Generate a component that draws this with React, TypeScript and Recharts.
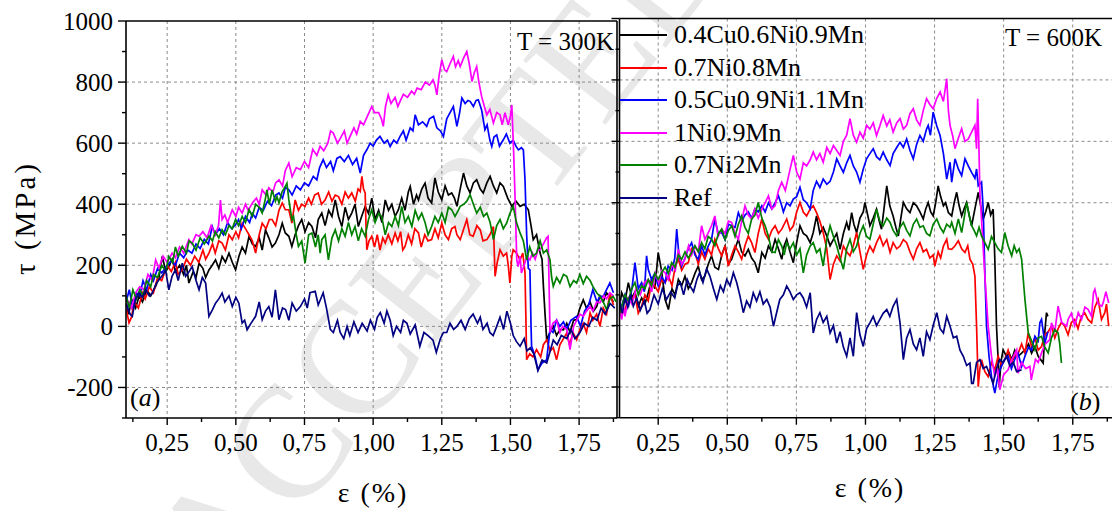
import { CartesianGrid, Legend, Line, LineChart, ReferenceLine, XAxis, YAxis } from "recharts";

type Pt = [number, number];

const FONT = '"Liberation Serif", "Times New Roman", serif';

const SERIES_NAMES = ["0.4Cu0.6Ni0.9Mn", "0.7Ni0.8Mn", "0.5Cu0.9Ni1.1Mn", "1Ni0.9Mn", "0.7Ni2Mn", "Ref"];
const SERIES_COLORS = ["#000000", "#ff0000", "#0000ff", "#ff00ff", "#008000", "#000080"];

const X_TICKS_A = [0.125, 0.25, 0.375, 0.5, 0.625, 0.75, 0.875, 1, 1.125, 1.25, 1.375, 1.5, 1.625, 1.75, 1.875];
const X_TICKS_B = X_TICKS_A.slice(1);
const Y_TICKS = [-300, -200, -100, 0, 100, 200, 300, 400, 500, 600, 700, 800, 900, 1000];
const GRID_X = [0.25, 0.5, 0.75, 1, 1.25, 1.5, 1.75];
const GRID_Y = [-200, 0, 200, 400, 600, 800];

// ---- (a) T = 300K : [strain %, shear stress MPa]
const aBlack: Pt[] = [[0.1,70],[0.11,40],[0.12,90],[0.135,60],[0.148,100],[0.16,80],[0.175,120],[0.19,100],[0.208,131],[0.22,160],[0.232,229],[0.245,180],[0.256,196],[0.268,220],[0.28,180],[0.295,200],[0.31,170],[0.32,200],[0.329,142],[0.345,180],[0.355,160],[0.366,207],[0.38,190],[0.39,160],[0.402,185],[0.414,200],[0.426,218],[0.438,190],[0.45,229],[0.462,210],[0.475,240],[0.487,210],[0.499,185],[0.511,229],[0.523,260],[0.535,240],[0.548,295],[0.56,270],[0.572,262],[0.585,290],[0.596,250],[0.608,316],[0.62,290],[0.632,260],[0.644,273],[0.657,300],[0.669,338],[0.68,306],[0.693,295],[0.704,262],[0.716,300],[0.728,330],[0.74,350],[0.752,310],[0.765,340],[0.777,327],[0.79,290],[0.8,350],[0.813,371],[0.825,330],[0.838,380],[0.85,360],[0.862,414],[0.874,360],[0.886,327],[0.898,390],[0.91,350],[0.922,371],[0.934,400],[0.946,327],[0.958,360],[0.971,393],[0.983,370],[0.995,420],[1.007,350],[1.02,380],[1.032,340],[1.044,414],[1.056,380],[1.068,400],[1.08,360],[1.092,382],[1.104,420],[1.116,380],[1.128,440],[1.135,458],[1.147,400],[1.158,430],[1.165,414],[1.177,450],[1.189,469],[1.2,420],[1.213,404],[1.225,486],[1.237,440],[1.25,414],[1.262,460],[1.274,430],[1.286,437],[1.296,420],[1.305,393],[1.317,450],[1.329,502],[1.341,460],[1.353,437],[1.365,470],[1.377,480],[1.39,450],[1.401,437],[1.414,470],[1.426,491],[1.438,460],[1.45,437],[1.462,470],[1.474,458],[1.49,420],[1.505,393],[1.52,410],[1.535,393],[1.55,400],[1.565,382],[1.575,330],[1.583,284],[1.595,300],[1.608,240],[1.615,220],[1.62,131],[1.626,40],[1.632,-44],[1.644,-20],[1.656,0],[1.668,-30],[1.68,-10],[1.693,-11],[1.705,10],[1.717,-20],[1.73,20],[1.741,22],[1.753,60],[1.765,87],[1.777,60],[1.79,80],[1.802,50],[1.814,65],[1.826,100],[1.838,80],[1.85,110],[1.862,98],[1.875,80]];
const aRed: Pt[] = [[0.1,60],[0.111,12],[0.12,30],[0.13,80],[0.145,60],[0.16,110],[0.17,90],[0.185,130],[0.2,110],[0.215,160],[0.23,150],[0.25,200],[0.265,180],[0.28,210],[0.29,170],[0.305,185],[0.32,220],[0.335,200],[0.35,230],[0.365,210],[0.38,250],[0.39,220],[0.402,240],[0.415,270],[0.425,240],[0.438,280],[0.45,273],[0.462,250],[0.475,300],[0.487,284],[0.5,310],[0.51,290],[0.523,338],[0.535,320],[0.548,300],[0.56,280],[0.572,240],[0.585,300],[0.596,338],[0.61,320],[0.622,350],[0.632,350],[0.645,330],[0.657,380],[0.669,404],[0.68,382],[0.693,382],[0.704,338],[0.716,414],[0.728,380],[0.74,400],[0.752,393],[0.765,420],[0.775,400],[0.787,430],[0.8,437],[0.812,400],[0.825,414],[0.838,440],[0.85,410],[0.862,430],[0.874,425],[0.886,400],[0.898,440],[0.91,420],[0.922,437],[0.935,410],[0.945,450],[0.953,442],[0.959,491],[0.965,450],[0.971,437],[0.974,330],[0.977,251],[0.985,280],[0.995,295],[1.005,260],[1.015,300],[1.025,250],[1.035,290],[1.044,273],[1.055,300],[1.068,270],[1.08,306],[1.09,280],[1.1,310],[1.108,250],[1.116,262],[1.128,300],[1.14,270],[1.152,320],[1.165,306],[1.175,260],[1.188,300],[1.2,280],[1.213,284],[1.225,320],[1.237,290],[1.25,338],[1.262,300],[1.274,284],[1.286,320],[1.298,327],[1.305,300],[1.317,284],[1.33,320],[1.341,350],[1.352,300],[1.364,295],[1.378,330],[1.39,316],[1.4,280],[1.414,284],[1.425,300],[1.438,327],[1.444,164],[1.452,210],[1.462,251],[1.474,230],[1.486,240],[1.492,200],[1.498,142],[1.505,230],[1.51,251],[1.522,240],[1.535,218],[1.545,240],[1.553,175],[1.556,40],[1.559,-109],[1.57,-90],[1.582,-100],[1.595,-76],[1.61,-100],[1.62,-60],[1.632,-44],[1.645,-80],[1.656,-70],[1.668,-109],[1.68,-60],[1.693,-40],[1.705,-22],[1.715,-60],[1.728,-20],[1.741,-44],[1.753,-10],[1.765,10],[1.777,-20],[1.79,44],[1.8,20],[1.814,40],[1.826,0],[1.838,60],[1.85,40],[1.862,109],[1.875,70]];
const aBlue: Pt[] = [[0.1,80],[0.112,120],[0.125,60],[0.138,110],[0.15,100],[0.162,150],[0.175,120],[0.19,170],[0.2,150],[0.215,190],[0.23,175],[0.25,200],[0.265,215],[0.28,200],[0.295,240],[0.31,225],[0.325,250],[0.34,240],[0.355,270],[0.37,255],[0.385,285],[0.4,270],[0.414,327],[0.425,300],[0.44,320],[0.455,300],[0.47,340],[0.485,320],[0.499,333],[0.51,350],[0.52,320],[0.535,360],[0.55,340],[0.56,370],[0.572,355],[0.585,390],[0.6,380],[0.615,410],[0.63,395],[0.645,430],[0.657,437],[0.67,420],[0.68,455],[0.693,447],[0.705,430],[0.72,460],[0.735,447],[0.75,470],[0.765,460],[0.782,491],[0.795,480],[0.805,520],[0.818,546],[0.83,520],[0.845,540],[0.855,510],[0.868,550],[0.88,556],[0.895,540],[0.91,560],[0.925,530],[0.94,550],[0.953,502],[0.965,560],[0.978,580],[0.989,600],[1,590],[1.012,610],[1.025,622],[1.04,600],[1.052,610],[1.062,589],[1.075,610],[1.086,600],[1.098,622],[1.11,640],[1.12,610],[1.135,650],[1.145,640],[1.153,693],[1.165,660],[1.18,670],[1.195,655],[1.205,680],[1.22,688],[1.232,650],[1.245,640],[1.256,622],[1.268,680],[1.28,700],[1.292,720],[1.305,655],[1.315,700],[1.323,748],[1.335,730],[1.345,740],[1.353,737],[1.365,720],[1.375,740],[1.383,742],[1.395,709],[1.407,644],[1.415,660],[1.425,610],[1.432,589],[1.44,620],[1.45,627],[1.46,590],[1.474,611],[1.485,630],[1.498,600],[1.51,610],[1.52,590],[1.529,578],[1.54,585],[1.547,578],[1.553,480],[1.559,300],[1.565,190],[1.571,185],[1.575,0],[1.577,-65],[1.59,-100],[1.6,-142],[1.615,-120],[1.632,-109],[1.644,-10],[1.655,-20],[1.668,20],[1.68,0],[1.693,15],[1.705,-10],[1.72,20],[1.741,33],[1.755,0],[1.77,50],[1.785,70],[1.8,120],[1.815,80],[1.826,98],[1.838,98],[1.85,120],[1.862,142],[1.875,110]];
const aMagenta: Pt[] = [[0.1,50],[0.11,80],[0.12,60],[0.135,110],[0.15,130],[0.165,120],[0.18,170],[0.195,150],[0.208,218],[0.22,190],[0.235,230],[0.25,210],[0.268,240],[0.28,225],[0.295,260],[0.31,240],[0.329,284],[0.34,270],[0.355,300],[0.366,295],[0.38,310],[0.395,290],[0.41,330],[0.425,300],[0.437,330],[0.444,414],[0.45,350],[0.46,365],[0.47,340],[0.487,382],[0.5,360],[0.51,390],[0.523,371],[0.535,400],[0.545,380],[0.56,404],[0.575,420],[0.585,400],[0.596,447],[0.61,430],[0.62,454],[0.635,440],[0.645,470],[0.657,480],[0.67,460],[0.68,510],[0.693,535],[0.705,490],[0.72,520],[0.735,513],[0.75,540],[0.765,520],[0.78,580],[0.795,560],[0.807,590],[0.82,575],[0.835,600],[0.845,640],[0.855,633],[0.87,600],[0.88,615],[0.895,640],[0.905,600],[0.916,622],[0.93,650],[0.94,630],[0.953,671],[0.965,660],[0.98,690],[0.995,720],[1.005,700],[1.02,700],[1.03,680],[1.037,655],[1.045,720],[1.055,758],[1.065,730],[1.08,750],[1.09,720],[1.098,737],[1.11,760],[1.125,750],[1.14,770],[1.15,760],[1.16,780],[1.175,775],[1.19,800],[1.205,790],[1.218,807],[1.225,790],[1.232,758],[1.24,820],[1.25,873],[1.26,840],[1.268,834],[1.28,860],[1.292,884],[1.3,850],[1.31,870],[1.317,851],[1.33,880],[1.341,900],[1.35,860],[1.36,802],[1.368,830],[1.377,851],[1.385,800],[1.395,753],[1.405,720],[1.414,693],[1.425,710],[1.438,666],[1.45,700],[1.462,693],[1.47,660],[1.48,700],[1.492,660],[1.5,690],[1.505,725],[1.512,560],[1.517,415],[1.523,218],[1.528,196],[1.535,230],[1.54,175],[1.55,200],[1.56,230],[1.571,218],[1.58,240],[1.59,220],[1.6,250],[1.608,251],[1.62,270],[1.632,290],[1.637,295],[1.641,120],[1.644,-20],[1.655,10],[1.668,20],[1.68,-20],[1.69,0],[1.705,-10],[1.717,-76],[1.73,0],[1.741,20],[1.753,40],[1.765,33],[1.777,50],[1.79,65],[1.8,50],[1.814,80],[1.826,77],[1.84,100],[1.85,90],[1.862,110],[1.875,100]];
const aGreen: Pt[] = [[0.1,100],[0.112,60],[0.125,120],[0.138,90],[0.15,120],[0.162,100],[0.175,150],[0.19,130],[0.2,170],[0.215,160],[0.23,200],[0.245,180],[0.256,229],[0.27,210],[0.28,260],[0.29,230],[0.305,262],[0.32,240],[0.33,280],[0.341,273],[0.355,250],[0.37,290],[0.385,270],[0.402,295],[0.415,280],[0.425,310],[0.438,290],[0.45,316],[0.462,300],[0.475,330],[0.487,320],[0.499,350],[0.51,330],[0.523,360],[0.535,340],[0.548,382],[0.56,360],[0.572,400],[0.585,390],[0.596,371],[0.608,420],[0.613,447],[0.622,400],[0.632,447],[0.644,410],[0.65,425],[0.657,404],[0.668,440],[0.68,458],[0.686,469],[0.693,414],[0.704,350],[0.71,360],[0.72,300],[0.728,262],[0.74,280],[0.752,207],[0.765,300],[0.777,306],[0.79,260],[0.8,300],[0.807,240],[0.813,284],[0.825,300],[0.837,218],[0.85,290],[0.862,316],[0.874,280],[0.886,320],[0.898,295],[0.91,340],[0.922,300],[0.934,327],[0.946,280],[0.958,320],[0.971,295],[0.983,350],[0.995,382],[1.007,340],[1.02,370],[1.031,360],[1.044,300],[1.056,340],[1.068,327],[1.08,360],[1.092,330],[1.104,393],[1.116,340],[1.128,360],[1.141,327],[1.153,380],[1.165,350],[1.177,371],[1.189,340],[1.2,300],[1.213,327],[1.225,360],[1.237,340],[1.25,371],[1.262,340],[1.274,390],[1.286,382],[1.298,360],[1.31,380],[1.317,393],[1.33,400],[1.341,410],[1.353,431],[1.365,400],[1.377,371],[1.39,390],[1.402,360],[1.414,371],[1.426,340],[1.438,284],[1.45,330],[1.462,350],[1.474,320],[1.486,338],[1.498,370],[1.51,393],[1.522,340],[1.535,306],[1.547,280],[1.559,218],[1.57,260],[1.582,230],[1.595,240],[1.608,280],[1.62,240],[1.632,251],[1.644,218],[1.65,160],[1.656,131],[1.668,160],[1.68,142],[1.693,170],[1.705,164],[1.717,130],[1.73,150],[1.741,142],[1.753,170],[1.765,140],[1.777,164],[1.79,150],[1.8,131],[1.814,110],[1.826,98],[1.838,80],[1.85,55],[1.862,90],[1.874,98],[1.885,80]];
const aRef: Pt[] = [[0.1,76],[0.115,40],[0.123,33],[0.135,90],[0.147,109],[0.16,95],[0.171,120],[0.185,100],[0.196,109],[0.21,140],[0.22,153],[0.235,170],[0.244,185],[0.256,120],[0.268,165],[0.28,185],[0.29,150],[0.305,207],[0.317,164],[0.33,180],[0.341,196],[0.355,150],[0.366,120],[0.378,160],[0.39,142],[0.402,33],[0.415,55],[0.426,76],[0.438,90],[0.45,109],[0.46,80],[0.475,100],[0.487,65],[0.5,95],[0.511,76],[0.523,11],[0.532,20],[0.541,-11],[0.555,10],[0.572,33],[0.585,80],[0.596,22],[0.608,50],[0.62,65],[0.632,30],[0.644,120],[0.657,22],[0.67,60],[0.681,55],[0.693,20],[0.705,76],[0.72,50],[0.735,65],[0.75,90],[0.76,60],[0.77,110],[0.789,115],[0.8,70],[0.818,110],[0.83,60],[0.844,-10],[0.855,-20],[0.87,20],[0.88,-20],[0.893,-40],[0.905,0],[0.915,-30],[0.93,15],[0.945,-20],[0.96,10],[0.978,-15],[0.99,20],[1.005,-10],[1.015,30],[1.026,45],[1.04,10],[1.05,50],[1.062,20],[1.073,-30],[1.085,0],[1.1,-20],[1.11,20],[1.123,10],[1.135,-25],[1.153,5],[1.17,-65],[1.185,-20],[1.2,-30],[1.218,-45],[1.23,-85],[1.245,-40],[1.256,-20],[1.268,-20],[1.28,10],[1.293,-10],[1.305,0],[1.32,20],[1.335,-10],[1.35,25],[1.364,40],[1.38,10],[1.39,30],[1.4,-10],[1.415,10],[1.425,-20],[1.437,-30],[1.45,0],[1.462,30],[1.475,-10],[1.487,50],[1.5,10],[1.51,-30],[1.522,-50],[1.535,-65],[1.55,-40],[1.56,-80],[1.572,-70],[1.585,-90],[1.6,-145],[1.615,-110],[1.632,-120],[1.645,-80],[1.656,-45],[1.67,-60],[1.685,-30],[1.705,-40],[1.72,-10],[1.735,-40],[1.753,-20],[1.77,10],[1.785,0],[1.8,30],[1.815,20],[1.83,60],[1.845,40],[1.863,75],[1.88,60]];

// ---- (b) T = 600K
const bBlack: Pt[] = [[0.11,60],[0.118,107],[0.13,80],[0.142,140],[0.155,90],[0.166,110],[0.178,63],[0.19,90],[0.202,70],[0.214,107],[0.226,150],[0.238,120],[0.25,238],[0.262,180],[0.275,85],[0.287,52],[0.3,120],[0.311,100],[0.323,150],[0.335,130],[0.347,161],[0.359,120],[0.371,140],[0.383,170],[0.395,194],[0.407,150],[0.419,161],[0.431,200],[0.443,227],[0.455,190],[0.468,183],[0.48,230],[0.492,259],[0.504,200],[0.516,216],[0.528,250],[0.54,281],[0.552,240],[0.564,227],[0.576,248],[0.588,220],[0.6,205],[0.612,172],[0.625,238],[0.637,220],[0.649,259],[0.661,240],[0.673,281],[0.685,250],[0.697,216],[0.706,260],[0.715,281],[0.727,240],[0.739,205],[0.751,270],[0.763,325],[0.775,300],[0.787,292],[0.8,270],[0.811,303],[0.823,357],[0.835,300],[0.847,320],[0.86,292],[0.872,260],[0.884,281],[0.896,300],[0.908,248],[0.92,300],[0.932,336],[0.94,310],[0.95,368],[0.958,330],[0.968,303],[0.98,350],[0.992,370],[0.998,401],[1.008,360],[1.016,325],[1.028,350],[1.04,379],[1.05,340],[1.058,314],[1.067,380],[1.077,455],[1.088,390],[1.1,357],[1.11,320],[1.119,292],[1.128,350],[1.137,401],[1.149,380],[1.161,368],[1.173,400],[1.185,390],[1.197,370],[1.209,347],[1.218,380],[1.227,401],[1.236,370],[1.245,357],[1.254,400],[1.263,455],[1.272,420],[1.282,390],[1.29,400],[1.3,368],[1.312,357],[1.321,400],[1.33,434],[1.339,390],[1.348,357],[1.357,380],[1.366,401],[1.375,360],[1.384,325],[1.396,380],[1.408,434],[1.417,390],[1.426,347],[1.435,370],[1.444,401],[1.453,360],[1.462,379],[1.468,216],[1.474,0],[1.48,-111],[1.484,-199],[1.49,-120],[1.498,-79],[1.51,-100],[1.52,-90],[1.529,-111],[1.54,-80],[1.552,-100],[1.565,-90],[1.577,-79],[1.59,-60],[1.601,-90],[1.613,-68],[1.625,-100],[1.643,-122],[1.649,-20],[1.655,42],[1.66,30]];
const bRed: Pt[] = [[0.11,80],[0.12,40],[0.13,52],[0.142,90],[0.154,85],[0.166,100],[0.178,40],[0.19,63],[0.202,100],[0.214,80],[0.226,140],[0.238,129],[0.25,110],[0.262,150],[0.275,140],[0.287,161],[0.3,130],[0.311,190],[0.323,216],[0.335,180],[0.347,200],[0.359,205],[0.371,250],[0.383,238],[0.395,200],[0.407,240],[0.419,216],[0.431,250],[0.443,230],[0.455,281],[0.468,250],[0.48,227],[0.492,260],[0.504,194],[0.516,230],[0.528,259],[0.54,240],[0.552,216],[0.564,260],[0.576,292],[0.588,270],[0.6,238],[0.612,300],[0.625,347],[0.637,300],[0.649,281],[0.661,310],[0.673,325],[0.685,300],[0.697,314],[0.706,330],[0.715,347],[0.727,310],[0.739,325],[0.751,370],[0.763,401],[0.775,370],[0.787,357],[0.8,380],[0.811,390],[0.823,368],[0.835,340],[0.847,303],[0.86,250],[0.872,150],[0.884,200],[0.896,227],[0.908,210],[0.92,259],[0.932,240],[0.944,227],[0.956,260],[0.968,303],[0.98,240],[0.992,183],[1.004,230],[1.016,259],[1.028,240],[1.04,270],[1.052,292],[1.064,260],[1.077,280],[1.089,238],[1.1,270],[1.113,250],[1.125,259],[1.137,280],[1.149,270],[1.161,240],[1.173,216],[1.185,250],[1.197,270],[1.209,240],[1.221,248],[1.233,220],[1.245,230],[1.251,194],[1.263,240],[1.272,220],[1.282,259],[1.294,281],[1.3,250],[1.312,248],[1.324,260],[1.336,276],[1.348,250],[1.36,238],[1.37,260],[1.378,216],[1.388,200],[1.396,161],[1.402,-2],[1.408,-199],[1.414,-140],[1.42,-111],[1.432,-150],[1.444,-166],[1.456,-120],[1.468,-144],[1.48,-100],[1.492,-130],[1.504,-111],[1.516,-80],[1.528,-120],[1.54,-100],[1.553,-89],[1.565,-60],[1.577,-90],[1.589,-24],[1.601,-70],[1.613,-40],[1.625,-80],[1.637,-68],[1.649,-30],[1.661,-20],[1.673,-2],[1.685,-40],[1.697,-10],[1.709,10],[1.721,-2],[1.733,-30],[1.745,10],[1.757,20],[1.769,-10],[1.781,30],[1.793,42],[1.805,20],[1.818,9],[1.83,60],[1.842,85],[1.854,20],[1.866,42],[1.872,70],[1.88,-2]];
const bBlue: Pt[] = [[0.11,40],[0.118,63],[0.13,100],[0.142,60],[0.155,120],[0.166,205],[0.178,120],[0.19,140],[0.2,110],[0.208,227],[0.214,183],[0.226,150],[0.238,170],[0.25,129],[0.262,160],[0.275,140],[0.286,194],[0.3,180],[0.31,220],[0.317,314],[0.325,230],[0.335,194],[0.347,220],[0.359,250],[0.371,270],[0.383,230],[0.395,216],[0.407,260],[0.419,230],[0.431,259],[0.443,280],[0.455,347],[0.467,300],[0.48,303],[0.492,280],[0.504,330],[0.516,325],[0.528,320],[0.54,368],[0.552,340],[0.564,360],[0.576,370],[0.588,350],[0.6,380],[0.612,370],[0.625,390],[0.637,370],[0.649,400],[0.661,380],[0.673,400],[0.685,423],[0.697,390],[0.703,370],[0.715,400],[0.727,390],[0.739,412],[0.751,420],[0.763,450],[0.775,410],[0.787,400],[0.8,380],[0.811,440],[0.823,470],[0.835,450],[0.847,477],[0.86,460],[0.872,470],[0.884,500],[0.896,543],[0.908,520],[0.92,499],[0.932,530],[0.944,554],[0.956,520],[0.968,500],[0.98,467],[0.992,510],[1.004,543],[1.016,560],[1.028,576],[1.04,550],[1.052,540],[1.064,565],[1.077,540],[1.089,521],[1.1,560],[1.113,580],[1.125,597],[1.137,580],[1.149,608],[1.161,570],[1.173,543],[1.185,590],[1.197,619],[1.209,600],[1.221,640],[1.227,652],[1.235,620],[1.245,695],[1.258,650],[1.27,619],[1.282,560],[1.294,477],[1.306,532],[1.312,467],[1.324,543],[1.336,510],[1.348,488],[1.36,543],[1.372,520],[1.384,499],[1.396,480],[1.402,510],[1.408,455],[1.42,467],[1.426,379],[1.432,172],[1.438,-2],[1.447,-100],[1.456,-166],[1.468,-220],[1.48,-160],[1.492,-133],[1.504,-110],[1.516,-100],[1.528,-140],[1.54,-110],[1.552,-90],[1.565,-133],[1.577,-100],[1.59,-70],[1.601,-80],[1.613,-35],[1.625,-50],[1.631,9],[1.637,20],[1.649,-57],[1.66,-20]];
const bMagenta: Pt[] = [[0.11,50],[0.118,20],[0.125,60],[0.13,30],[0.142,90],[0.155,70],[0.17,120],[0.185,100],[0.2,140],[0.214,150],[0.226,110],[0.24,170],[0.252,140],[0.264,180],[0.275,172],[0.287,150],[0.3,200],[0.312,180],[0.323,248],[0.335,200],[0.347,216],[0.36,260],[0.371,230],[0.383,259],[0.395,240],[0.407,325],[0.419,281],[0.43,300],[0.443,325],[0.455,357],[0.467,290],[0.48,314],[0.492,300],[0.504,340],[0.516,336],[0.528,300],[0.54,281],[0.552,340],[0.564,390],[0.576,360],[0.588,347],[0.6,380],[0.612,350],[0.625,379],[0.637,400],[0.649,423],[0.661,380],[0.673,390],[0.685,440],[0.697,467],[0.71,440],[0.72,480],[0.73,520],[0.739,554],[0.751,500],[0.763,477],[0.775,530],[0.787,520],[0.8,540],[0.811,565],[0.823,540],[0.835,560],[0.847,532],[0.86,580],[0.872,560],[0.884,586],[0.896,570],[0.908,554],[0.92,600],[0.932,620],[0.944,674],[0.956,620],[0.968,597],[0.98,630],[0.992,610],[1.004,652],[1.016,640],[1.028,660],[1.04,619],[1.052,650],[1.064,684],[1.077,650],[1.088,670],[1.1,630],[1.113,660],[1.125,674],[1.137,640],[1.149,652],[1.161,690],[1.173,706],[1.185,670],[1.197,652],[1.209,700],[1.221,739],[1.233,720],[1.245,706],[1.258,740],[1.27,761],[1.282,730],[1.294,804],[1.3,700],[1.306,652],[1.315,620],[1.324,576],[1.336,610],[1.348,641],[1.36,600],[1.372,608],[1.384,630],[1.396,652],[1.402,576],[1.406,739],[1.41,600],[1.414,434],[1.423,300],[1.432,161],[1.438,80],[1.444,-2],[1.456,-100],[1.468,-166],[1.478,-140],[1.486,-209],[1.5,-160],[1.516,-144],[1.53,-110],[1.547,-79],[1.552,-155],[1.565,-120],[1.58,-140],[1.595,-133],[1.6,-177],[1.615,-110],[1.625,-120],[1.637,-89],[1.65,-60],[1.667,-46],[1.673,9],[1.685,-20],[1.697,63],[1.71,10],[1.728,-2],[1.733,20],[1.745,40],[1.757,0],[1.77,42],[1.782,20],[1.794,60],[1.806,52],[1.818,30],[1.825,107],[1.83,118],[1.842,70],[1.855,63],[1.86,74],[1.87,110],[1.88,74]];
const bGreen: Pt[] = [[0.11,40],[0.118,63],[0.13,100],[0.142,80],[0.154,120],[0.166,140],[0.178,100],[0.19,130],[0.202,120],[0.214,150],[0.226,130],[0.238,170],[0.25,150],[0.262,172],[0.275,190],[0.287,170],[0.299,205],[0.311,190],[0.323,230],[0.335,216],[0.347,240],[0.359,220],[0.371,238],[0.383,260],[0.395,240],[0.407,270],[0.419,250],[0.431,290],[0.443,281],[0.455,260],[0.468,300],[0.48,314],[0.492,280],[0.504,310],[0.516,325],[0.528,290],[0.54,330],[0.552,357],[0.564,320],[0.576,300],[0.588,347],[0.6,360],[0.612,401],[0.625,350],[0.637,325],[0.649,290],[0.661,240],[0.673,238],[0.685,280],[0.697,259],[0.706,230],[0.715,270],[0.727,250],[0.739,270],[0.751,230],[0.763,250],[0.775,172],[0.787,230],[0.8,259],[0.811,270],[0.823,238],[0.835,250],[0.847,194],[0.86,280],[0.872,325],[0.884,290],[0.896,259],[0.908,220],[0.92,183],[0.932,250],[0.944,281],[0.956,240],[0.968,259],[0.98,300],[0.992,325],[1.004,290],[1.016,281],[1.028,330],[1.04,379],[1.052,340],[1.064,325],[1.077,350],[1.089,336],[1.1,310],[1.113,292],[1.125,320],[1.137,336],[1.149,310],[1.161,292],[1.173,330],[1.185,347],[1.197,320],[1.209,325],[1.221,300],[1.233,292],[1.245,330],[1.258,347],[1.27,320],[1.282,303],[1.294,330],[1.306,320],[1.312,336],[1.324,300],[1.336,347],[1.348,303],[1.357,350],[1.366,401],[1.375,360],[1.384,325],[1.393,310],[1.402,292],[1.411,320],[1.42,292],[1.432,270],[1.444,248],[1.456,290],[1.468,270],[1.48,250],[1.492,238],[1.504,303],[1.516,260],[1.529,227],[1.538,260],[1.547,238],[1.556,250],[1.565,216],[1.571,150],[1.577,85],[1.583,30],[1.589,-24],[1.601,-50],[1.613,-79],[1.625,-40],[1.637,-35],[1.649,-70],[1.661,-89],[1.673,-40],[1.685,-13],[1.697,-24],[1.703,-60],[1.709,-122]];
const bRef: Pt[] = [[0.11,80],[0.12,40],[0.13,90],[0.14,60],[0.15,100],[0.16,63],[0.172,90],[0.185,50],[0.2,80],[0.21,40],[0.22,52],[0.235,100],[0.25,70],[0.265,120],[0.28,85],[0.295,110],[0.31,90],[0.32,130],[0.33,140],[0.342,100],[0.355,150],[0.365,129],[0.378,110],[0.39,150],[0.4,172],[0.412,140],[0.425,185],[0.437,161],[0.45,120],[0.462,85],[0.475,130],[0.486,110],[0.498,150],[0.51,130],[0.522,172],[0.534,140],[0.546,96],[0.558,42],[0.57,80],[0.582,60],[0.594,107],[0.606,80],[0.618,110],[0.63,70],[0.643,85],[0.655,60],[0.667,-2],[0.678,40],[0.69,85],[0.703,100],[0.715,129],[0.727,110],[0.739,85],[0.751,100],[0.763,107],[0.775,90],[0.787,60],[0.8,107],[0.811,-24],[0.823,20],[0.835,42],[0.847,10],[0.86,30],[0.872,-24],[0.884,0],[0.896,-57],[0.908,-20],[0.92,-70],[0.932,-100],[0.944,-40],[0.956,-100],[0.968,42],[0.98,-30],[0.992,-68],[1.004,-10],[1.016,9],[1.028,30],[1.04,0],[1.052,20],[1.064,40],[1.077,52],[1.088,30],[1.1,63],[1.113,85],[1.125,9],[1.137,-111],[1.149,-40],[1.161,-13],[1.173,-60],[1.185,-79],[1.197,-40],[1.209,-100],[1.221,-20],[1.233,-46],[1.245,0],[1.258,42],[1.27,-10],[1.282,-24],[1.294,30],[1.306,-2],[1.318,-40],[1.33,-35],[1.342,-80],[1.354,-100],[1.366,-130],[1.378,-122],[1.384,-188],[1.39,-188],[1.402,-120],[1.414,-111],[1.426,-140],[1.438,-133],[1.45,-160],[1.462,-188],[1.474,-140],[1.486,-111],[1.498,-120],[1.51,-100],[1.522,-130],[1.535,-120],[1.547,-150],[1.565,-144]];

const PANEL_A = [aBlack, aRed, aBlue, aMagenta, aGreen, aRef];
const PANEL_B = [bBlack, bRed, bBlue, bMagenta, bGreen, bRef];

const toRows = (pts: Pt[]) => pts.map(([eps, tau]) => ({ eps, tau }));
const isMajorX = (v: number) => Math.abs(v * 4 - Math.round(v * 4)) < 1e-6;

function XTick(props: any) {
  const { x, y, payload } = props;
  const v = payload.value as number;
  const major = isMajorX(v);
  return (
    <g>
      <line x1={x} x2={x} y1={y} y2={y + (major ? 7 : 4)} stroke="#000" strokeWidth={1.4} />
      {major && (
        <text x={x} y={y + 33} textAnchor="middle" fontFamily={FONT} fontSize={25} fill="#000">
          {v.toFixed(2).replace(".", ",")}
        </text>
      )}
    </g>
  );
}

function YTick(props: any) {
  const { x, y, payload, labelled } = props;
  const v = payload.value as number;
  const major = v % 200 === 0;
  return (
    <g>
      <line x1={x - (major ? 8 : 4)} x2={x} y1={y} y2={y} stroke="#000" strokeWidth={1.4} />
      {labelled && major && (
        <text x={x - 13} y={y} dy="0.34em" textAnchor="end" fontFamily={FONT} fontSize={25} fill="#000">
          {v}
        </text>
      )}
    </g>
  );
}

function LegendBox() {
  return (
    <div style={{ fontFamily: FONT, fontSize: 26, color: "#000" }}>
      {SERIES_NAMES.map((name, i) => (
        <div key={name} style={{ display: "flex", alignItems: "center", height: 32.6, whiteSpace: "nowrap" }}>
          <span style={{ display: "inline-block", width: 47, borderTop: `2px solid ${SERIES_COLORS[i]}`, marginRight: 7 }} />
          <span style={{ lineHeight: 1 }}>{name}</span>
        </div>
      ))}
    </div>
  );
}

const axisLine = { stroke: "#000", strokeWidth: 1.6 };

function renderLines(panel: Pt[][], named: boolean) {
  return panel.map((pts, i) => (
    <Line
      key={SERIES_NAMES[i]}
      data={toRows(pts)}
      dataKey="tau"
      name={SERIES_NAMES[i]}
      type="linear"
      stroke={SERIES_COLORS[i]}
      strokeWidth={1.7}
      dot={false}
      activeDot={false}
      legendType={named ? "line" : "none"}
      isAnimationActive={false}
    />
  ));
}

export default function App() {
  return (
    <div style={{ position: "absolute", left: 0, top: 0, width: 1112, height: 511, background: "#fff", overflow: "hidden" }}>
      {/* faint diagonal stamp behind the plots */}
      <svg width={1112} height={511} style={{ position: "absolute", left: 0, top: 0 }}>
        <text transform="translate(225,612) rotate(-52)" fontFamily={FONT} fontSize={160} fill="#e8e8e8">
          ACCEPTED
        </text>
      </svg>

      <div style={{ position: "absolute", left: 0, top: 0 }}>
        <LineChart width={620} height={511} margin={{ top: 21, right: 3, bottom: 0, left: 0 }}>
          <CartesianGrid stroke="#8a8a8a" strokeDasharray="3 3" horizontalValues={GRID_Y} verticalValues={GRID_X} />
          <XAxis
            type="number"
            dataKey="eps"
            domain={[0.1, 1.888]}
            ticks={X_TICKS_A}
            interval={0}
            allowDataOverflow
            height={93}
            tickSize={0}
            tickMargin={0}
            tickLine={false}
            axisLine={axisLine}
            tick={(p: any) => <XTick {...p} />}
          />
          <YAxis
            type="number"
            domain={[-300, 1000]}
            ticks={Y_TICKS}
            interval={0}
            allowDataOverflow
            width={126}
            tickSize={0}
            tickMargin={0}
            tickLine={false}
            axisLine={axisLine}
            tick={(p: any) => <YTick {...p} labelled />}
          />
          <ReferenceLine y={1000} stroke="#000" strokeWidth={1.6} />
          <ReferenceLine x={1.888} stroke="#000" strokeWidth={1.6} />
          {renderLines(PANEL_A, false)}
        </LineChart>
      </div>

      <div style={{ position: "absolute", left: 556, top: 0 }}>
        <LineChart width={556} height={511} margin={{ top: 18.5, right: 0, bottom: 0, left: 0 }}>
          <CartesianGrid stroke="#8a8a8a" strokeDasharray="3 3" horizontalValues={GRID_Y} verticalValues={GRID_X} />
          <XAxis
            type="number"
            dataKey="eps"
            domain={[0.11, 1.892]}
            ticks={X_TICKS_B}
            interval={0}
            allowDataOverflow
            height={93.3}
            tickSize={0}
            tickMargin={0}
            tickLine={false}
            axisLine={axisLine}
            tick={(p: any) => <XTick {...p} />}
          />
          <YAxis
            type="number"
            domain={[-300, 1000]}
            ticks={Y_TICKS}
            interval={0}
            allowDataOverflow
            width={63.5}
            tickSize={0}
            tickMargin={0}
            tickLine={false}
            axisLine={axisLine}
            tick={(p: any) => <YTick {...p} />}
          />
          <ReferenceLine y={1000} stroke="#000" strokeWidth={1.6} />
          <Legend
            layout="vertical"
            align="center"
            verticalAlign="middle"
            content={<LegendBox />}
            wrapperStyle={{ left: 64, top: 18.7, width: "auto", height: "auto" }}
          />
          {renderLines(PANEL_B, true)}
        </LineChart>
      </div>

      <svg width={1112} height={511} style={{ position: "absolute", left: 0, top: 0, pointerEvents: "none" }}>
        <g fontFamily={FONT} fill="#000">
          <text x={517} y={50} fontSize={25}>T = 300K</text>
          <text x={1005} y={46} fontSize={25}>T = 600K</text>
          <text x={130} y={406} fontSize={26}>
            (<tspan fontStyle="italic">a</tspan>)
          </text>
          <text x={1070} y={410} fontSize={26}>
            (<tspan fontStyle="italic">b</tspan>)
          </text>
          <text x={373} y={502} fontSize={28} letterSpacing={2} textAnchor="middle">ε (%)</text>
          <text x={870} y={497} fontSize={28} letterSpacing={2} textAnchor="middle">ε (%)</text>
          <text transform="translate(35,218) rotate(-90)" fontSize={29} letterSpacing={3} textAnchor="middle">τ (MPa)</text>
        </g>
      </svg>
    </div>
  );
}
